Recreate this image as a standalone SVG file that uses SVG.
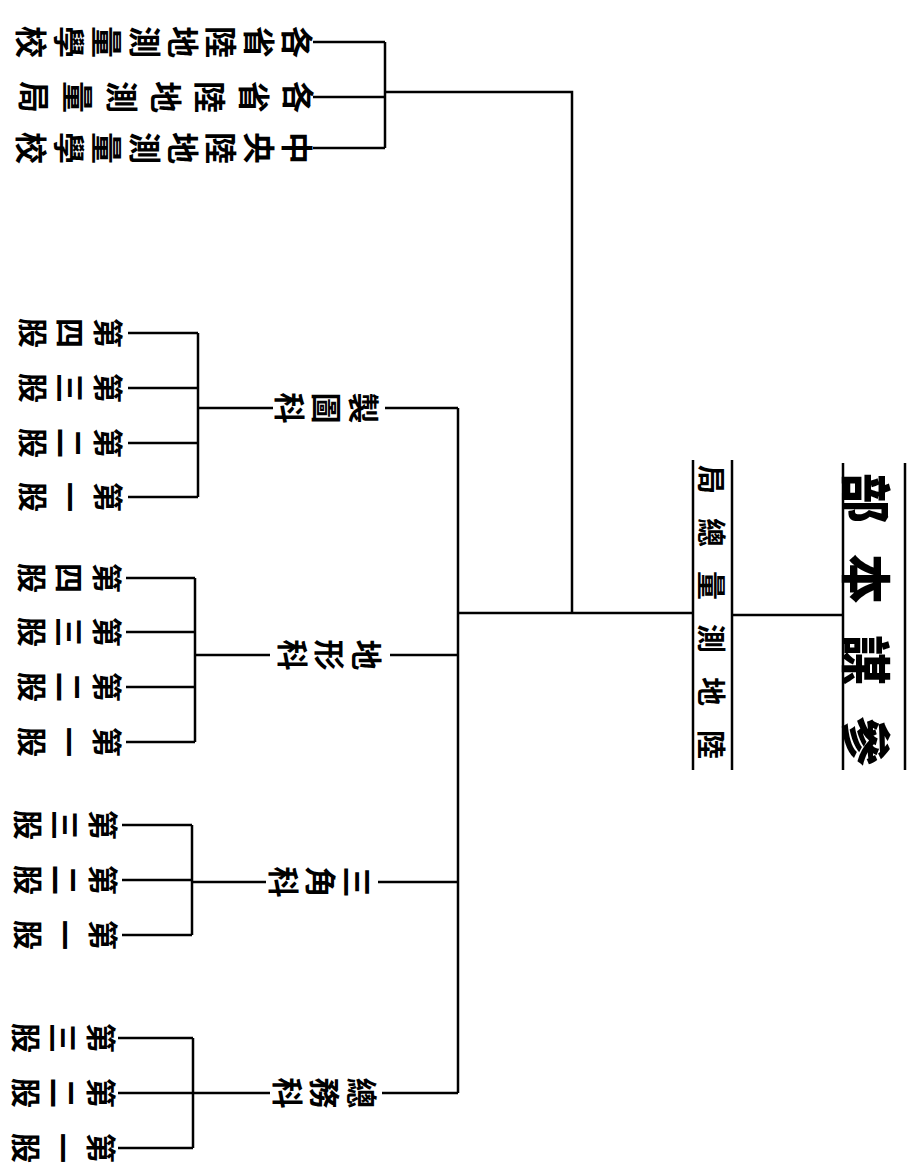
<svg xmlns="http://www.w3.org/2000/svg" width="907" height="1168" viewBox="0 0 907 1168">
<style>
.ln{stroke:#000;stroke-width:2.5;fill:none}
.v{font-family:"Noto Sans CJK TC","Noto Sans CJK SC",sans-serif;writing-mode:vertical-rl;text-anchor:middle;font-weight:700;fill:#000}
.h{font-family:"Noto Sans CJK TC","Noto Sans CJK SC",sans-serif;direction:rtl;unicode-bidi:bidi-override;text-anchor:middle;dominant-baseline:central;font-weight:700;fill:#000}
.g{font-size:30px;letter-spacing:7.5px}
.k{font-size:31px;letter-spacing:6px}
.s{font-size:32px;letter-spacing:6px}
</style>
<rect width="907" height="1168" fill="#fff"/>
<g id="connectors" class="ln">
<path d="M313 42H385M313 97H385M313 148H385M385 42V148M385 92H572V613M458 613H693"/>
<path d="M732 615H843"/>
<path d="M693 460V770M732 460V770M843 463V770M905 463V770"/>
<path d="M458 408V1093M385 408H458M390 655H458M378 882H458M382 1093H458"/>
<path d="M273 408H198M198 333V497M128 333H198M128 388H198M128 443H198M128 497H198"/>
<path d="M270 655H195M195 578V742M126 578H195M126 632H195M126 687H195M126 742H195"/>
<path d="M266 882H192M192 825V935M122 825H192M122 880H192M122 935H192"/>
<path d="M270 1093H193M193 1038V1148M118 1038H193M118 1093H193M118 1148H193"/>
</g>
<g id="n-hq"><text class="h" style="font-size:50px;letter-spacing:31px;font-weight:900" transform="translate(869,635) rotate(90)">參謀本部</text></g>
<g id="n-bureau"><text class="h" style="font-size:29px;letter-spacing:24px" transform="translate(713,624) rotate(90)">陸地測量總局</text></g>
<g id="n-school1"><text class="v s" transform="translate(161,42) rotate(90)">各省陸地測量學校</text></g>
<g id="n-school2"><text class="v s" style="letter-spacing:12px" transform="translate(160,97) rotate(90)">各省陸地測量局</text></g>
<g id="n-school3"><text class="v s" transform="translate(161,148) rotate(90)">中央陸地測量學校</text></g>
<g id="n-zhitu"><text class="v k" transform="translate(324,408) rotate(90)">製圖科</text></g>
<g id="n-dixing"><text class="v k" transform="translate(327,655) rotate(90)">地形科</text></g>
<g id="n-sanjiao"><text class="v k" transform="translate(318,882) rotate(90)">三角科</text></g>
<g id="n-zongwu"><text class="v k" transform="translate(322,1093) rotate(90)">總務科</text></g>
<g id="n-zt4"><text class="v g" transform="translate(67,333) rotate(90)">第四股</text></g>
<g id="n-zt3"><text class="v g" transform="translate(67,388) rotate(90)">第三股</text></g>
<g id="n-zt2"><text class="v g" transform="translate(67,443) rotate(90)">第二股</text></g>
<g id="n-zt1"><text class="v g" transform="translate(67,497) rotate(90)">第一股</text></g>
<g id="n-dx4"><text class="v g" transform="translate(66,578) rotate(90)">第四股</text></g>
<g id="n-dx3"><text class="v g" transform="translate(66,632) rotate(90)">第三股</text></g>
<g id="n-dx2"><text class="v g" transform="translate(66,687) rotate(90)">第二股</text></g>
<g id="n-dx1"><text class="v g" transform="translate(66,742) rotate(90)">第一股</text></g>
<g id="n-sj3"><text class="v g" transform="translate(62,825) rotate(90)">第三股</text></g>
<g id="n-sj2"><text class="v g" transform="translate(62,880) rotate(90)">第二股</text></g>
<g id="n-sj1"><text class="v g" transform="translate(62,935) rotate(90)">第一股</text></g>
<g id="n-zw3"><text class="v g" transform="translate(60,1038) rotate(90)">第三股</text></g>
<g id="n-zw2"><text class="v g" transform="translate(60,1093) rotate(90)">第二股</text></g>
<g id="n-zw1"><text class="v g" transform="translate(60,1148) rotate(90)">第一股</text></g>
</svg>
